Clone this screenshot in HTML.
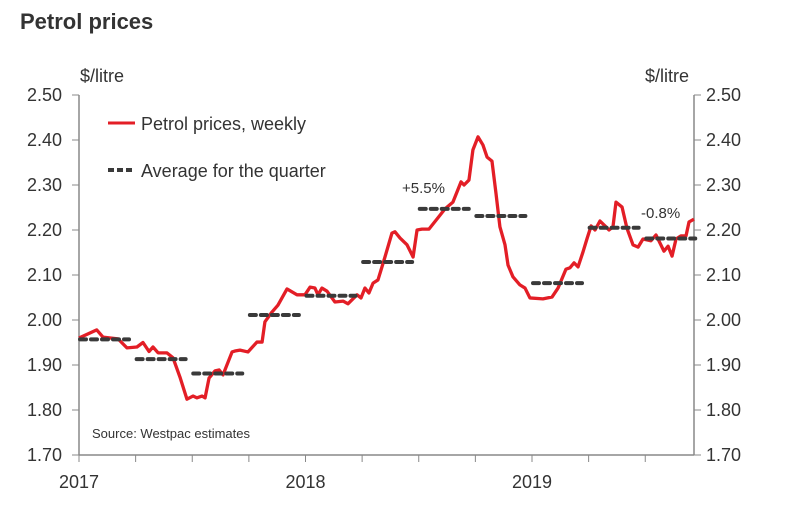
<!DOCTYPE html>
<html><head><meta charset="utf-8"><style>
body{margin:0;background:#fff;width:794px;height:521px;overflow:hidden;font-family:"Liberation Sans",sans-serif}
svg{position:absolute;left:0;top:0}
text{font-family:"Liberation Sans",sans-serif;fill:#333}
</style></head><body>
<svg id="c" width="794" height="521">
<text x="20" y="29" font-size="22" font-weight="bold">Petrol prices</text>
<text x="80" y="82" font-size="18">$/litre</text>
<text x="645" y="82" font-size="18">$/litre</text>
<g id="axes"></g>
<g id="marks"></g>
<line x1="108" y1="123" x2="135" y2="123" stroke="#e31e26" stroke-width="3"/>
<text x="141" y="130" font-size="18">Petrol prices, weekly</text>
<line x1="108" y1="170" x2="135" y2="170" stroke="#3a3a3a" stroke-width="4" stroke-dasharray="6 3"/>
<text x="141" y="177" font-size="18">Average for the quarter</text>
<text x="402" y="193" font-size="15">+5.5%</text>
<text x="641" y="218" font-size="15">-0.8%</text>
<text x="92" y="438" font-size="13">Source: Westpac estimates</text>
</svg>
<script>
const months=[0,0.94,1.27,2.07,2.54,3.07,3.39,3.71,3.92,4.19,4.66,4.98,5.35,5.72,6.04,6.25,6.52,6.68,6.89,7.21,7.42,7.63,8.11,8.26,8.53,8.95,9.43,9.70,9.85,10.23,10.54,11.02,11.55,11.97,12.24,12.50,12.66,12.87,13.14,13.56,13.99,14.25,14.73,14.94,15.15,15.36,15.58,15.84,16.21,16.58,16.74,17.01,17.38,17.70,17.91,18.17,18.54,19.13,19.39,19.81,20.24,20.40,20.66,20.87,21.14,21.40,21.62,21.88,22.09,22.30,22.57,22.73,22.99,23.36,23.63,23.89,24.58,25.06,25.38,25.80,26.01,26.23,26.44,26.70,26.91,27.13,27.34,27.60,27.87,28.08,28.29,28.45,28.77,29.03,29.35,29.62,29.88,30.30,30.57,30.99,31.21,31.42,31.63,31.89,32.16,32.32,32.58];
const prices=[1.96,1.978,1.962,1.958,1.938,1.94,1.95,1.93,1.94,1.927,1.927,1.916,1.873,1.824,1.831,1.827,1.831,1.827,1.871,1.887,1.889,1.878,1.929,1.931,1.933,1.929,1.951,1.951,1.996,2.018,2.033,2.069,2.056,2.056,2.073,2.071,2.056,2.071,2.064,2.04,2.042,2.036,2.056,2.049,2.071,2.06,2.082,2.089,2.14,2.193,2.196,2.182,2.167,2.14,2.2,2.202,2.202,2.233,2.247,2.262,2.307,2.3,2.311,2.378,2.407,2.389,2.362,2.353,2.282,2.207,2.167,2.122,2.096,2.078,2.071,2.049,2.047,2.051,2.071,2.113,2.116,2.127,2.118,2.151,2.18,2.209,2.2,2.22,2.209,2.2,2.207,2.262,2.251,2.204,2.167,2.162,2.18,2.176,2.189,2.153,2.164,2.142,2.18,2.187,2.187,2.218,2.224];
const quarterAvg=[1.957,1.913,1.881,2.011,2.054,2.129,2.247,2.231,2.082,2.205,2.181];
const yTicks=["1.70","1.80","1.90","2.00","2.10","2.20","2.30","2.40","2.50"];
const yearLabels=["2017","2018","2019"];
const NS="http://www.w3.org/2000/svg";
const X0=79,X1=694,Y0=455,YT=95,PX_M=18.875;
const xs=m=>X0+m*PX_M;
const ys=v=>Y0-(v-1.7)/0.8*(Y0-YT);
function mk(tag,attrs,parent){const e=document.createElementNS(NS,tag);for(const k in attrs)e.setAttribute(k,attrs[k]);parent.appendChild(e);return e;}
const ax=document.getElementById('axes'),mg=document.getElementById('marks');
let e=mk('line',{x1:X0,y1:YT,x2:X0,y2:Y0,stroke:'#888','stroke-width':1.5},ax);


e=mk('line',{x1:X1,y1:YT,x2:X1,y2:Y0,stroke:'#888','stroke-width':1.5},ax);


e=mk('line',{x1:X0,y1:Y0,x2:X1,y2:Y0,stroke:'#888','stroke-width':1.5},ax);


yTicks.forEach(t=>{const y=ys(+t);
 mk('line',{x1:X0-7,y1:y,x2:X0,y2:y,stroke:'#888'},ax);
 mk('line',{x1:X1,y1:y,x2:X1+7,y2:y,stroke:'#888'},ax);
 let a=mk('text',{x:62,y:y+6,'font-size':18,'text-anchor':'end'},ax);a.textContent=t;
 
 
 let b=mk('text',{x:706,y:y+6,'font-size':18},ax);b.textContent=t;
 
 
});
for(let q=0;q<=11;q++){const x=xs(q*3);if(x<=X1)mk('line',{x1:x,y1:Y0,x2:x,y2:Y0+7,stroke:'#888'},ax);}
yearLabels.forEach((t,i)=>{let a=mk('text',{x:xs(i*12),y:488,'font-size':18,'text-anchor':'middle'},ax);a.textContent=t;
 
 });
const p=mk('polyline',{points:months.map((m,i)=>xs(m)+','+ys(prices[i])).join(' '),fill:'none',stroke:'#e31e26','stroke-width':3.3,'stroke-linejoin':'round'},mg);


quarterAvg.forEach((v,i)=>{const x1=xs(i*3)+1,x2=xs(i*3+2.65);
 let l=mk('line',{x1:x1,y1:ys(v),x2:x2,y2:ys(v),stroke:'#3a3a3a','stroke-width':4,'stroke-dasharray':'6 5','stroke-linecap':'round'},mg);
 
 });
</script>
</body></html>
